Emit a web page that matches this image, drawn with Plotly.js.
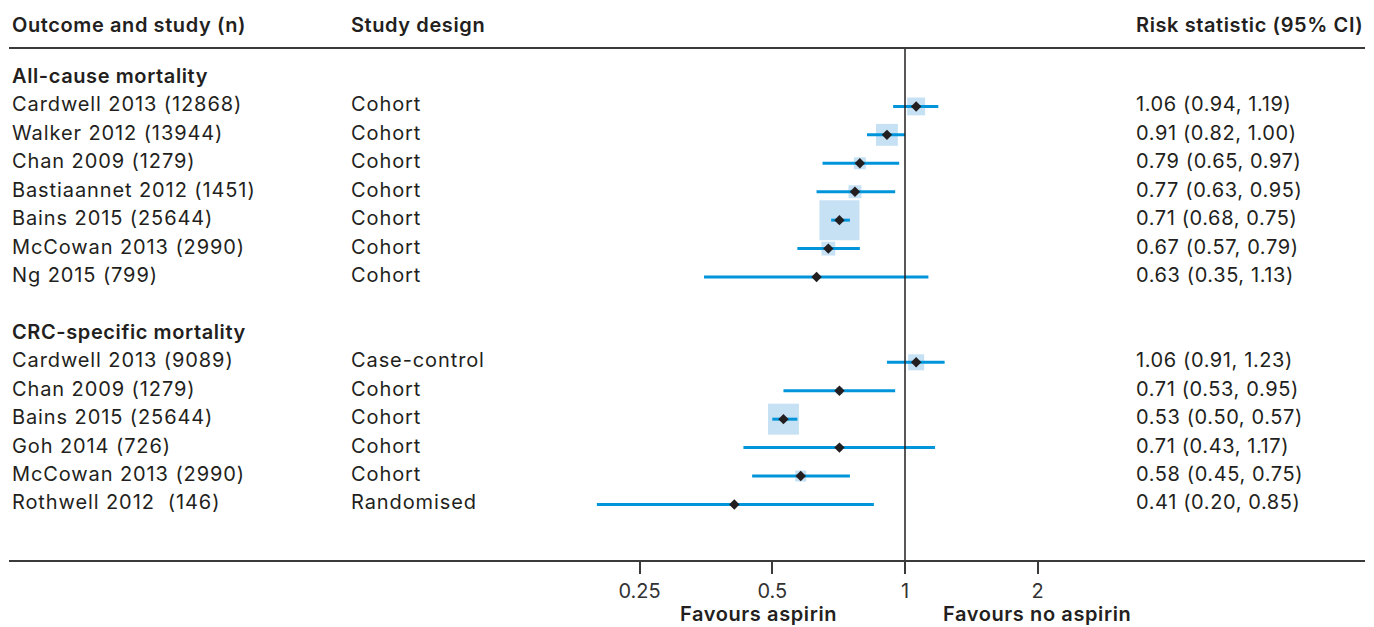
<!DOCTYPE html>
<html>
<head>
<meta charset="utf-8">
<script src="https://cdn.plot.ly/plotly-3.0.1.min.js"></script>
<style>html,body{margin:0;padding:0;background:#fff;}#chart{width:1374px;height:627px;}</style>
</head>
<body>
<div id="chart"></div>
<script>
// ---------- DATA ----------
const groupNames = ["All-cause mortality", "CRC-specific mortality"];

const studiesAll = ["Cardwell 2013 (12868)", "Walker 2012 (13944)", "Chan 2009 (1279)", "Bastiaannet 2012 (1451)", "Bains 2015 (25644)", "McCowan 2013 (2990)", "Ng 2015 (799)"];
const designAll = ["Cohort", "Cohort", "Cohort", "Cohort", "Cohort", "Cohort", "Cohort"];
const estAll = [1.06, 0.91, 0.79, 0.77, 0.71, 0.67, 0.63];
const lowAll = [0.94, 0.82, 0.65, 0.63, 0.68, 0.57, 0.35];
const highAll = [1.19, 1.00, 0.97, 0.95, 0.75, 0.79, 1.13];
const weightAll = [20, 30, 9, 10.5, 100, 12, 1.6];

const studiesCrc = ["Cardwell 2013 (9089)", "Chan 2009 (1279)", "Bains 2015 (25644)", "Goh 2014 (726)", "McCowan 2013 (2990)", "Rothwell 2012\u00a0 (146)"];
const designCrc = ["Case-control", "Cohort", "Cohort", "Cohort", "Cohort", "Randomised"];
const estCrc = [1.06, 0.71, 0.53, 0.71, 0.58, 0.41];
const lowCrc = [0.91, 0.53, 0.50, 0.43, 0.45, 0.20];
const highCrc = [1.23, 0.95, 0.57, 1.17, 0.75, 0.85];
const weightCrc = [16, 3.1, 60, 2.3, 7.6, 1.6];

const tickVals = [0.25, 0.5, 1, 2];
const tickText = ["0.25", "0.5", "1", "2"];
const headers = ["Outcome and study (n)", "Study design", "Risk statistic (95% CI)"];
const favourLabels = ["Favours aspirin", "Favours no aspirin"];

// ---------- LAYOUT HELPERS ----------
const W = 1374, H = 627;
const ML = 9, MR = 9, MT = 0, MB = 67;
const PW = W - ML - MR, PH = H - MT - MB;
const rowTop = 78, rowStep = 28.43;            // px of row 0 and spacing
const pxToRow = p => (p - rowTop) / rowStep;
const pxX = p => (p - ML) / PW;                  // paper x
const pxY = p => 1 - (p - MT) / PH;              // paper y
const oneX = 905, perDouble = 132.7;
const l10 = Math.log10(2);
const xRange = [((ML - oneX) / perDouble) * l10, ((W - MR - oneX) / perDouble) * l10];

const rowsAll = studiesAll.map((_, i) => 1 + i);
const rowsCrc = studiesCrc.map((_, i) => 10 + i);
const groupRows = [0, 9];

const rows = rowsAll.concat(rowsCrc);
const names = studiesAll.concat(studiesCrc);
const designs = designAll.concat(designCrc);
const ests = estAll.concat(estCrc);
const lows = lowAll.concat(lowCrc);
const highs = highAll.concat(highCrc);
const weights = weightAll.concat(weightCrc);

const textColor = "#231f20";
const fontFam = "Inter, Lato, sans-serif";
const fs = 20;
const ys = 2;
const bodyFont = { family: fontFam, size: fs, color: textColor, weight: 400 };
const boldFont = { family: fontFam, size: fs, color: textColor, weight: 600 };
const body = t => '<span style="letter-spacing:0.9px">' + t + '</span>';
const num = t => '<span style="letter-spacing:0.6px">' + t + '</span>';
const bold = t => '<span style="letter-spacing:0.6px">' + t + '</span>';

// CI segments
const ciX = [], ciY = [];
rows.forEach((r, i) => { ciX.push(lows[i], highs[i], null); ciY.push(r, r, null); });

const traces = [
  { type: "scatter", mode: "markers", x: ests, y: rows, hoverinfo: "skip",
    marker: { symbol: "square", size: weights.map(w => 4 * Math.sqrt(w)), color: "#aed4f0", line: { width: 0 } } },
  { type: "scatter", mode: "lines", x: ciX, y: ciY, hoverinfo: "skip",
    line: { color: "#0095da", width: 3 } },
  { type: "scatter", mode: "markers", x: ests, y: rows, hoverinfo: "skip",
    marker: { symbol: "diamond", size: 8, color: "#231f20", line: { width: 0 } } },
  { type: "scatter", mode: "lines", x: [1, 1], y: [pxToRow(48), pxToRow(560)], hoverinfo: "skip",
    line: { color: "#231f20", width: 1.5 } }
];

const ann = [];
const colX = [10, 349, 1134];
headers.forEach((h, i) => ann.push({ xref: "paper", yref: "paper", x: pxX(colX[i]), y: pxY(27), yshift: ys, xanchor: "left", yanchor: "middle",
  text: bold(h), showarrow: false, font: boldFont }));
groupNames.forEach((g, i) => ann.push({ xref: "paper", yref: "y", x: pxX(colX[0]), y: groupRows[i], yshift: ys, xanchor: "left", yanchor: "middle",
  text: bold(g), showarrow: false, font: boldFont }));
rows.forEach((r, i) => {
  ann.push({ xref: "paper", yref: "y", x: pxX(colX[0]), y: r, yshift: ys, xanchor: "left", yanchor: "middle", text: body(names[i]), showarrow: false,
    font: bodyFont });
  ann.push({ xref: "paper", yref: "y", x: pxX(colX[1]), y: r, yshift: ys, xanchor: "left", yanchor: "middle", text: body(designs[i]), showarrow: false,
    font: bodyFont });
  ann.push({ xref: "paper", yref: "y", x: pxX(colX[2]), y: r, yshift: ys, xanchor: "left", yanchor: "middle",
    text: num(ests[i].toFixed(2) + " (" + lows[i].toFixed(2) + ", " + highs[i].toFixed(2) + ")"), showarrow: false,
    font: bodyFont });
});
const favX = [678, 941];
favourLabels.forEach((f, i) => ann.push({ xref: "paper", yref: "paper", x: pxX(favX[i]), y: pxY(614), xanchor: "left", yanchor: "middle",
  text: bold(f), showarrow: false, font: boldFont }));

const layout = {
  width: W, height: H, margin: { l: ML, r: MR, t: MT, b: MB },
  paper_bgcolor: "#fff", plot_bgcolor: "#fff", showlegend: false,
  xaxis: { type: "log", range: xRange, tickvals: tickVals, ticktext: tickText, showgrid: false, zeroline: false,
    showline: true, linecolor: "#3a3a3a", linewidth: 2, ticks: "outside", ticklen: 12, tickwidth: 2, tickcolor: "#3a3a3a",
    tickfont: { family: fontFam, size: fs, color: "#333" }, fixedrange: true },
  yaxis: { range: [pxToRow(MT + PH), pxToRow(MT)], showgrid: false, zeroline: false, showticklabels: false, showline: false, fixedrange: true },
  shapes: [{ type: "line", xref: "paper", yref: "paper", x0: 0, x1: 1, y0: pxY(48), y1: pxY(48), line: { color: "#3a3a3a", width: 2 } }],
  annotations: ann
};

Plotly.newPlot("chart", traces, layout, { displayModeBar: false, staticPlot: true });
</script>
</body>
</html>
